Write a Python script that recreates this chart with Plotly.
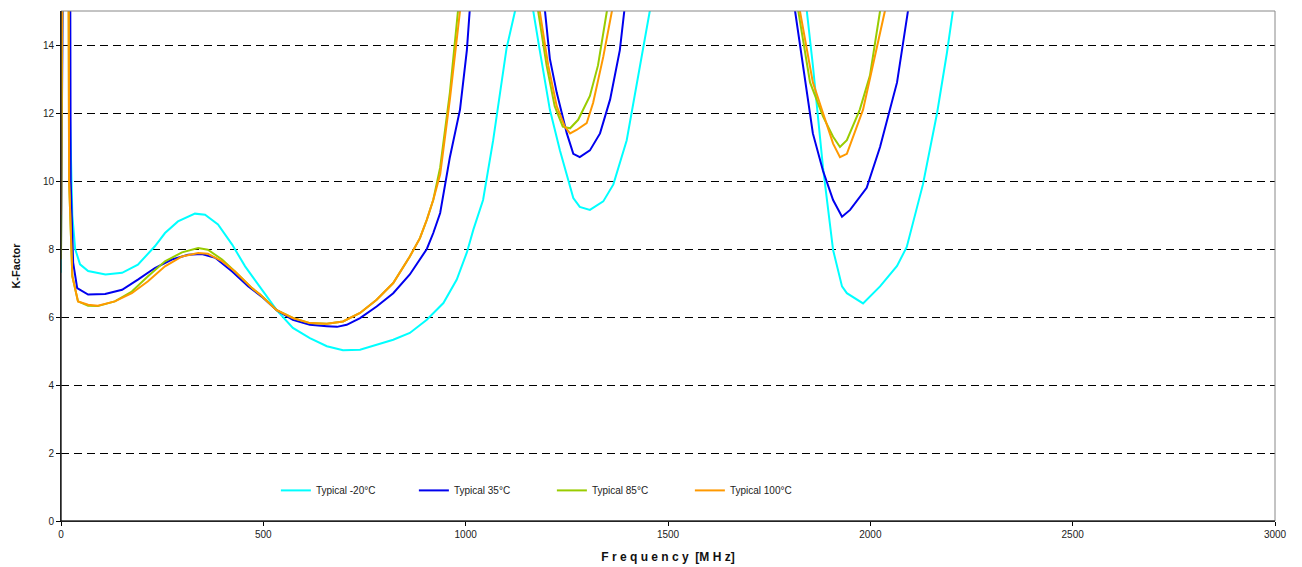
import plotly.graph_objects as go

# Frequency [MHz] / K-Factor readings for each series (values > 15 lie above the visible range)
freq_m20 = [0, 2, 16, 22, 28, 35, 47, 67, 110, 151, 190, 232, 257, 289, 331, 356, 388, 423, 455, 496,
            533, 573, 615, 657, 697, 739, 780, 821, 862, 904, 945, 978, 1003, 1019, 1043, 1068, 1101,
            1122, 1145, 1167, 1183, 1208, 1233, 1266, 1282, 1307, 1340, 1365, 1398, 1430, 1455, 1650,
            1843, 1858, 1883, 1908, 1930, 1942, 1982, 2024, 2066, 2090, 2130, 2165, 2189, 2204, 2300]
k_m20 = [7.3, 40, 40, 12, 9.0, 8.0, 7.55, 7.35, 7.25, 7.3, 7.54, 8.08, 8.47, 8.81, 9.04, 9.01, 8.72,
         8.13, 7.49, 6.8, 6.2, 5.68, 5.38, 5.14, 5.02, 5.04, 5.19, 5.33, 5.53, 5.92, 6.41, 7.1, 7.9,
         8.57, 9.44, 11.2, 13.9, 15, 25, 15, 13.85, 12.1, 10.9, 9.5, 9.24, 9.15, 9.4, 9.9, 11.2, 13.4,
         15, 30, 15, 13.4, 10.4, 7.97, 6.9, 6.7, 6.4, 6.9, 7.5, 8.06, 9.9, 12.0, 13.75, 15, 30]

freq_35 = [0, 2, 18, 24, 30, 40, 67, 109, 151, 190, 232, 274, 314, 348, 381, 423, 463, 496, 533, 573,
           615, 657, 682, 706, 739, 780, 821, 862, 904, 920, 937, 961, 986, 1003, 1011, 1100, 1196,
           1208, 1225, 1250, 1266, 1282, 1307, 1332, 1357, 1381, 1392, 1600, 1814, 1834, 1858, 1883,
           1908, 1930, 1950, 1991, 2024, 2066, 2081, 2093, 2200]
k_35 = [8.0, 40, 40, 10, 7.6, 6.85, 6.66, 6.68, 6.8, 7.1, 7.44, 7.69, 7.83, 7.85, 7.74, 7.34, 6.9, 6.6,
        6.2, 5.92, 5.77, 5.73, 5.71, 5.77, 5.97, 6.31, 6.7, 7.25, 8.0, 8.47, 9.06, 10.7, 12.1, 13.85,
        15, 30, 15, 13.6, 12.6, 11.4, 10.8, 10.7, 10.9, 11.4, 12.4, 13.85, 15, 30, 15, 13.4, 11.4,
        10.3, 9.44, 8.95, 9.15, 9.8, 11.0, 12.9, 14.05, 15, 30]

freq_85 = [0, 2, 14, 20, 28, 42, 67, 91, 133, 175, 215, 257, 299, 339, 363, 398, 430, 472, 492, 533,
           573, 615, 657, 697, 739, 780, 821, 862, 887, 904, 920, 937, 961, 981, 1080, 1179, 1200,
           1220, 1240, 1258, 1278, 1307, 1327, 1349, 1600, 1822, 1851, 1883, 1908, 1925, 1942, 1974,
           1999, 2024, 2150]
k_85 = [7.7, 40, 40, 10, 7.2, 6.46, 6.33, 6.32, 6.46, 6.75, 7.2, 7.64, 7.9, 8.03, 7.98, 7.69, 7.34,
        6.85, 6.66, 6.2, 5.97, 5.82, 5.8, 5.87, 6.12, 6.51, 7.0, 7.78, 8.32, 8.86, 9.45, 10.4, 12.6,
        15, 30, 15, 13.4, 12.2, 11.6, 11.55, 11.8, 12.5, 13.4, 15, 30, 15, 12.9, 11.9, 11.3, 11.0,
        11.2, 12.1, 13.1, 15, 30]

freq_100 = [0, 2, 14, 20, 28, 42, 67, 91, 133, 175, 215, 257, 299, 339, 363, 398, 430, 472, 492, 533,
            573, 615, 657, 697, 739, 780, 821, 862, 887, 904, 920, 937, 961, 986, 1080, 1183, 1204,
            1225, 1245, 1258, 1274, 1299, 1315, 1340, 1362, 1600, 1826, 1858, 1883, 1908, 1925, 1942,
            1982, 2007, 2036, 2150]
k_100 = [9.0, 40, 40, 10, 7.2, 6.46, 6.36, 6.33, 6.46, 6.7, 7.05, 7.49, 7.78, 7.88, 7.86, 7.64, 7.34,
         6.85, 6.66, 6.2, 5.97, 5.82, 5.8, 5.87, 6.12, 6.51, 7.0, 7.78, 8.32, 8.86, 9.45, 10.2, 12.4,
         15, 30, 15, 13.4, 12.2, 11.6, 11.4, 11.5, 11.7, 12.3, 13.65, 15, 30, 15, 12.9, 12.0, 11.1,
         10.7, 10.8, 12.1, 13.4, 15, 30]

series_names = ["Typical -20°C", "Typical 35°C", "Typical 85°C", "Typical 100°C"]
series_x = [freq_m20, freq_35, freq_85, freq_100]
series_y = [k_m20, k_35, k_85, k_100]
series_colors = ["#00FFFF", "#0000EE", "#99CC00", "#FF9900"]

x_ticks = [0, 500, 1000, 1500, 2000, 2500, 3000]
y_ticks = [0, 2, 4, 6, 8, 10, 12, 14]

fig = go.Figure()
for name, xs, ys, col in zip(series_names, series_x, series_y, series_colors):
    fig.add_trace(go.Scatter(x=xs, y=ys, mode="lines", name=name,
                             line=dict(color=col, width=2)))

font_fam = "Liberation Sans, Arial, sans-serif"
fig.update_layout(
    width=1302, height=567,
    margin=dict(l=61, r=27, t=11, b=46),
    paper_bgcolor="white", plot_bgcolor="white",
    font=dict(family=font_fam, size=10, color="#222"),
    showlegend=True,
    legend=dict(orientation="h", x=0.177, y=0.06, xanchor="left", yanchor="middle",
                entrywidth=93, entrywidthmode="pixels",
                font=dict(size=10, color="#222"), bgcolor="rgba(0,0,0,0)",
                itemwidth=30, tracegroupgap=0),
    xaxis=dict(range=[0, 3000], tickvals=x_ticks, showgrid=False, zeroline=False,
               showline=True, linecolor="black", linewidth=1, automargin=False,
               ticks="outside", ticklen=4, tickcolor="black",
               tickfont=dict(size=10, color="#222"),
               title=dict(text="<b>F r e q u e n c y  [M H z]</b>", font=dict(size=12, color="#111"), standoff=13)),
    yaxis=dict(range=[0, 15], tickvals=y_ticks, showgrid=True, gridcolor="black", gridwidth=1,
               griddash="8px,5px", zeroline=False, automargin=False,
               showline=True, linecolor="black", linewidth=1,
               ticks="outside", ticklen=4, tickcolor="black",
               tickfont=dict(size=10, color="#222"),
               title=dict(text="<b>K-Factor</b>", font=dict(size=11, color="#111"), standoff=20)),
)
fig.add_shape(type="rect", xref="paper", yref="paper", x0=0, y0=0, x1=1, y1=1,
              line=dict(color="#888888", width=1), layer="above")
fig.add_shape(type="line", xref="paper", yref="paper", x0=0, y0=0, x1=0, y1=1,
              line=dict(color="black", width=1), layer="above")
fig.add_shape(type="line", xref="paper", yref="paper", x0=0, y0=0, x1=1, y1=0,
              line=dict(color="black", width=1), layer="above")

fig.write_html("out.html")
